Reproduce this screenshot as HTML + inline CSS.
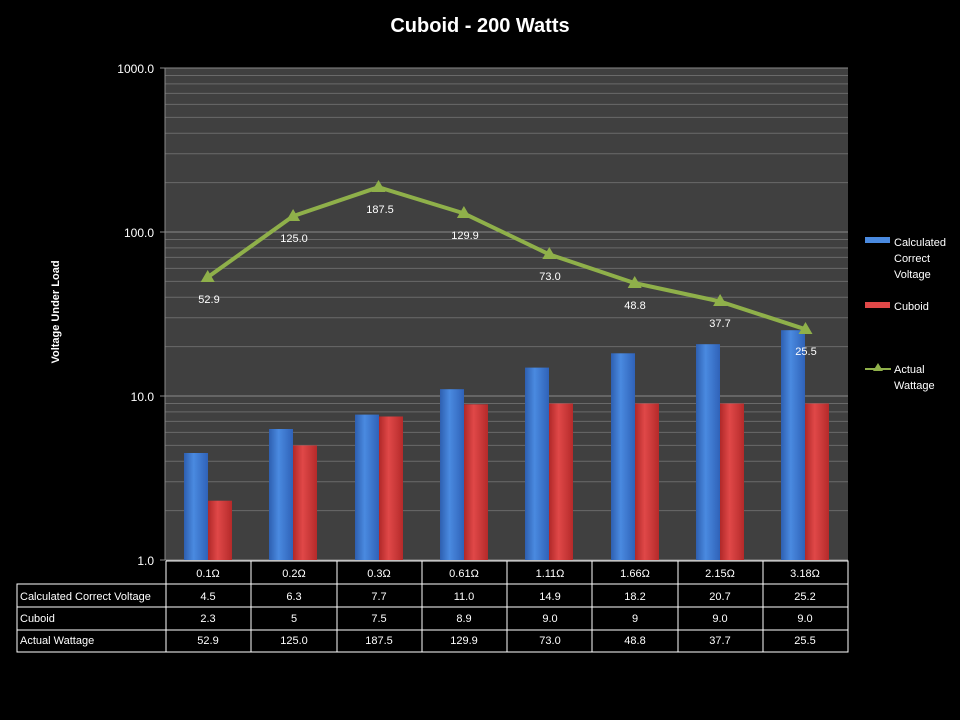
<!DOCTYPE html>
<html><head><meta charset="utf-8"><style>
body{margin:0;background:#000;width:960px;height:720px;overflow:hidden}
svg{display:block;font-family:"Liberation Sans",sans-serif}
</style></head><body>
<svg width="960" height="720" viewBox="0 0 960 720">
<defs>
<linearGradient id="gb" x1="0" x2="1"><stop offset="0" stop-color="#2e5fb0"/><stop offset="0.4" stop-color="#4a8ae0"/><stop offset="1" stop-color="#2f62b8"/></linearGradient>
<linearGradient id="gr" x1="0" x2="1"><stop offset="0" stop-color="#b02828"/><stop offset="0.4" stop-color="#e04848"/><stop offset="1" stop-color="#b52a2a"/></linearGradient>
</defs>
<rect width="960" height="720" fill="#000"/>
<text x="480" y="32" fill="#fff" font-size="20" font-weight="bold" text-anchor="middle">Cuboid - 200 Watts</text>
<rect x="165" y="68" width="683" height="492" fill="#404040"/>
<path stroke="#6a6a6a" stroke-width="1" fill="none" d="M165 510.6H848M165 481.8H848M165 461.3H848M165 445.4H848M165 432.4H848M165 421.4H848M165 411.9H848M165 403.5H848M165 346.6H848M165 317.8H848M165 297.3H848M165 281.4H848M165 268.4H848M165 257.4H848M165 247.9H848M165 239.5H848M165 182.6H848M165 153.8H848M165 133.3H848M165 117.4H848M165 104.4H848M165 93.4H848M165 83.9H848M165 75.5H848"/>
<path stroke="#8a8a8a" stroke-width="1" fill="none" d="M160 68H848M160 232H848M160 396H848M160 560H848M165 68V560"/>
<g fill="#fff" font-size="12" text-anchor="end">
<text x="154" y="73">1000.0</text><text x="154" y="237">100.0</text><text x="154" y="401">10.0</text><text x="154" y="565">1.0</text>
</g>
<text transform="translate(59,312) rotate(-90)" fill="#fff" font-size="11" font-weight="bold" text-anchor="middle">Voltage Under Load</text>
<g fill="url(#gb)">
<rect x="184" y="453" width="24" height="107"/><rect x="269" y="429" width="24" height="131"/><rect x="355" y="414.6" width="24" height="145.4"/><rect x="440" y="389.2" width="24" height="170.8"/><rect x="525" y="367.6" width="24" height="192.4"/><rect x="611" y="353.3" width="24" height="206.7"/><rect x="696" y="344.2" width="24" height="215.8"/><rect x="781" y="330.2" width="24" height="229.8"/>
</g>
<g fill="url(#gr)">
<rect x="208" y="500.7" width="24" height="59.3"/><rect x="293" y="445.4" width="24" height="114.6"/><rect x="379" y="416.5" width="24" height="143.5"/><rect x="464" y="404.3" width="24" height="155.7"/><rect x="549" y="403.5" width="24" height="156.5"/><rect x="635" y="403.5" width="24" height="156.5"/><rect x="720" y="403.5" width="24" height="156.5"/><rect x="805" y="403.5" width="24" height="156.5"/>
</g>
<polyline fill="none" stroke="#8fb04a" stroke-width="4" stroke-linejoin="round" points="207.7,277.3 293.1,216.1 378.5,187.2 463.9,213.4 549.3,254.4 634.7,283.1 720.1,301.5 805.5,329.3"/>
<g fill="#8fb04a">
<path d="M207.7 270l7 12h-14z"/><path d="M293.1 209l7 12h-14z"/><path d="M378.5 180l7 12h-14z"/><path d="M463.9 206l7 12h-14z"/><path d="M549.3 247l7 12h-14z"/><path d="M634.7 276l7 12h-14z"/><path d="M720.1 294l7 12h-14z"/><path d="M805.5 322l7 12h-14z"/>
</g>
<g fill="#fff" font-size="11" text-anchor="middle">
<text x="209" y="303">52.9</text><text x="294" y="242">125.0</text><text x="380" y="213">187.5</text><text x="465" y="239">129.9</text><text x="550" y="280">73.0</text><text x="635" y="309">48.8</text><text x="720" y="327">37.7</text><text x="806" y="355">25.5</text>
</g>
<rect x="865" y="237" width="25" height="6" fill="#4a8ae0"/>
<rect x="865" y="302" width="25" height="6" fill="#e04848"/>
<path d="M865 369H891" stroke="#8fb04a" stroke-width="2"/><path d="M878 363l5 8h-10z" fill="#8fb04a"/>
<g fill="#fff" font-size="11">
<text x="894" y="246">Calculated</text><text x="894" y="262">Correct</text><text x="894" y="278">Voltage</text>
<text x="894" y="310">Cuboid</text>
<text x="894" y="373">Actual</text><text x="894" y="389">Wattage</text>
</g>
<g stroke="#fff" stroke-width="1" fill="none">
<path d="M166 561H848V652H17V584H848M17 607H848M17 630H848M166 561V652M251 561V652M337 561V652M422 561V652M507 561V652M592 561V652M678 561V652M763 561V652"/>
</g>
<g fill="#fff" font-size="11">
<text x="20" y="600">Calculated Correct Voltage</text><text x="20" y="622">Cuboid</text><text x="20" y="644">Actual Wattage</text>
</g>
<g fill="#fff" font-size="11" text-anchor="middle">
<text x="208" y="577">0.1Ω</text><text x="294" y="577">0.2Ω</text><text x="379" y="577">0.3Ω</text><text x="464" y="577">0.61Ω</text><text x="550" y="577">1.11Ω</text><text x="635" y="577">1.66Ω</text><text x="720" y="577">2.15Ω</text><text x="805" y="577">3.18Ω</text>
<text x="208" y="600">4.5</text><text x="294" y="600">6.3</text><text x="379" y="600">7.7</text><text x="464" y="600">11.0</text><text x="550" y="600">14.9</text><text x="635" y="600">18.2</text><text x="720" y="600">20.7</text><text x="805" y="600">25.2</text>
<text x="208" y="622">2.3</text><text x="294" y="622">5</text><text x="379" y="622">7.5</text><text x="464" y="622">8.9</text><text x="550" y="622">9.0</text><text x="635" y="622">9</text><text x="720" y="622">9.0</text><text x="805" y="622">9.0</text>
<text x="208" y="644">52.9</text><text x="294" y="644">125.0</text><text x="379" y="644">187.5</text><text x="464" y="644">129.9</text><text x="550" y="644">73.0</text><text x="635" y="644">48.8</text><text x="720" y="644">37.7</text><text x="805" y="644">25.5</text>
</g>
</svg>
</body></html>
